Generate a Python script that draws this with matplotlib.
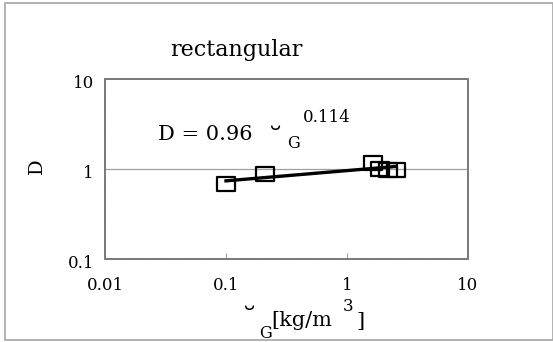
import numpy as np
import matplotlib
matplotlib.use("Agg")
import matplotlib.pyplot as plt
import matplotlib.transforms as mtrans
from matplotlib.patches import Rectangle
from matplotlib.path import Path

# ---- data ----
rho_g = [0.10, 0.21, 1.63, 1.86, 2.18, 2.55]
d_val = [0.69, 0.88, 1.18, 0.99, 0.97, 0.97]
fit_a = 0.96
fit_b = 0.114
x_ticks = [0.01, 0.1, 1, 10]
x_labels = ["0.01", "0.1", "1", "10"]
y_ticks = [0.1, 1, 10]
y_labels = ["0.1", "1", "10"]

W, H = 553, 342
plt.rcParams['font.family'] = ['DejaVu Serif', 'DejaVu Sans']

fig = plt.figure(figsize=(W / 100, H / 100), dpi=100)
fig.patch.set_facecolor("white")


def px(x, y):
    # pixel position -> figure fraction
    return x / W, 1 - y / H


# outer frame of the chart
fig.patches.append(Rectangle(px(5, 340), (W - 5) / W, 337 / H, transform=fig.transFigure,
                             fill=False, edgecolor="#a6a6a6", linewidth=1.2, clip_on=False))

ax = fig.add_axes([105 / W, 1 - 259 / H, 363 / W, 180 / H])
ax.set_xscale("log")
ax.set_yscale("log")
ax.set_xlim(0.01, 10)
ax.set_ylim(0.1, 10)

ax.axhline(1, color="#a0a0a0", linewidth=0.9, zorder=1)

# trend line D = 0.96 rho^0.114
xf = np.logspace(np.log10(min(rho_g)), np.log10(max(rho_g)), 30)
ax.plot(xf, fit_a * xf ** fit_b, color="black", linewidth=2.4, zorder=3)

# markers are slightly wider than tall in the original
box = Path([(-1, -0.75), (1, -0.75), (1, 0.75), (-1, 0.75), (-1, -0.75)],
           [Path.MOVETO, Path.LINETO, Path.LINETO, Path.LINETO, Path.CLOSEPOLY])
ax.plot(rho_g, d_val, linestyle="none", marker=box, markersize=12.5,
        markerfacecolor="none", markeredgecolor="black", markeredgewidth=1.6, zorder=4)

for s in ax.spines.values():
    s.set_color("#7a7a7a")
    s.set_linewidth(1.4)
    s.set_linestyle((0, (1, 0.6)))

ax.set_xticks(x_ticks)
ax.set_xticklabels(x_labels)
ax.set_yticks(y_ticks)
ax.set_yticklabels(y_labels)
ax.xaxis.set_minor_locator(matplotlib.ticker.NullLocator())
ax.yaxis.set_minor_locator(matplotlib.ticker.NullLocator())
ax.tick_params(axis="x", direction="in", length=4, color="#a0a0a0", pad=13, labelsize=12)
ax.tick_params(axis="y", direction="in", length=0, pad=8, labelsize=12)
# y labels sit a little below their ticks in the original
shift = mtrans.ScaledTranslation(0, -3 / 100, fig.dpi_scale_trans)
for t in ax.get_yticklabels():
    t.set_transform(t.get_transform() + shift)

# titles and labels placed by pixel position
fig.text(*px(236, 56), "rectangular", ha="center", va="baseline", fontsize=16)
fig.text(*px(37, 166), "D", ha="center", va="center", rotation=90, fontsize=14)

# equation
fig.text(*px(158, 140), "D = 0.96", ha="left", va="baseline", fontsize=15)
fig.text(*px(276, 151), "\u02d8", ha="center", va="baseline", fontsize=22)
fig.text(*px(287, 148), "G", ha="left", va="baseline", fontsize=11.5)
fig.text(*px(303, 122), "0.114", ha="left", va="baseline", fontsize=12)

# x axis label
fig.text(*px(250, 331), "\u02d8", ha="center", va="baseline", fontsize=22)
fig.text(*px(259, 338), "G", ha="left", va="baseline", fontsize=11.5)
fig.text(*px(271, 326), "[kg/m", ha="left", va="baseline", fontsize=15)
fig.text(*px(348, 311), "3", ha="center", va="baseline", fontsize=12)
fig.text(*px(356, 327), "]", ha="left", va="baseline", fontsize=15)

fig.savefig("out.png", dpi=100)
